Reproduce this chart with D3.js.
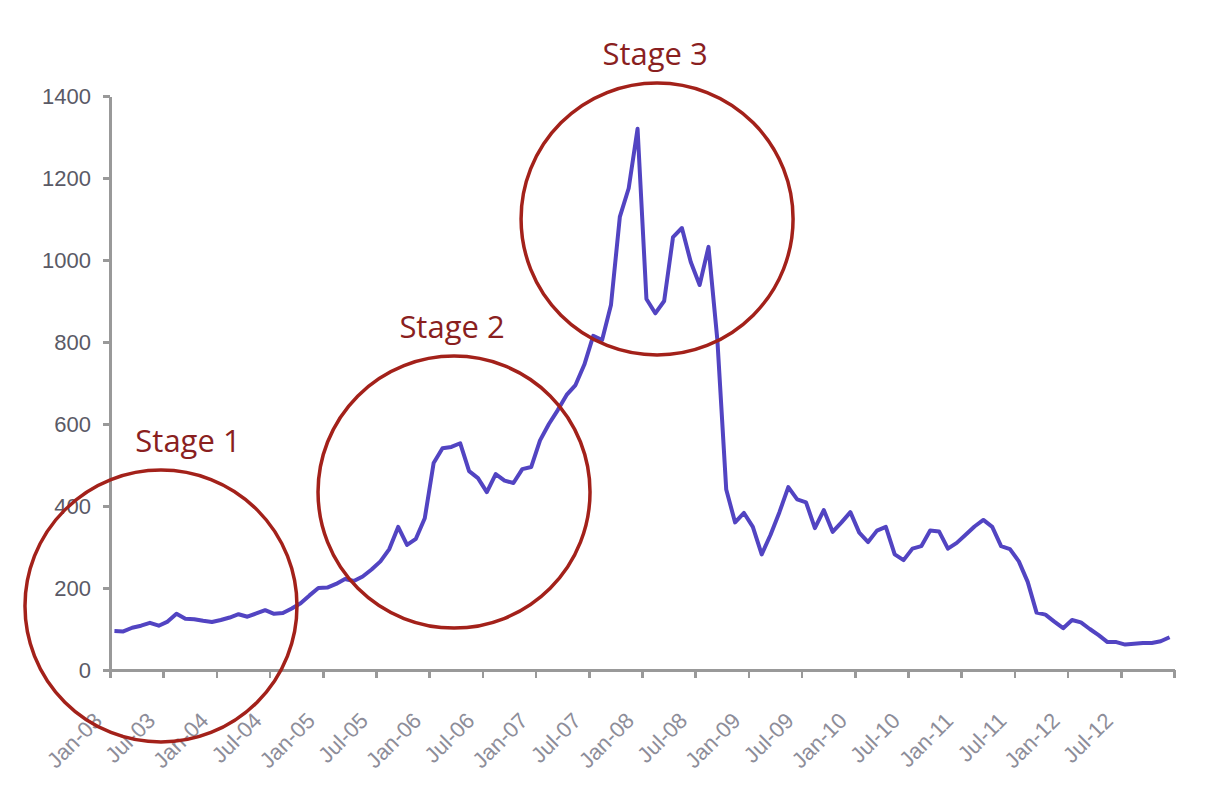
<!DOCTYPE html>
<html lang="en">
<head>
  <meta charset="UTF-8" />
  <title>Stages line chart</title>
  <script src="https://d3js.org/d3.v7.min.js"></script>
  <style>
    html, body {
      margin: 0;
      background: #fff;
    }
    svg { display: block; }
    .axis path, .axis line {
      stroke: #999;
      stroke-width: 2.5;
      shape-rendering: crispEdges;
    }
    .axis text {
      font-family: "Liberation Sans", Arial, sans-serif;
      font-size: 22px;
    }
    .y-axis text { fill: #5a5a66; }
    .x-axis text { fill: #8d8d99; }
    .stage-label {
      font-family: "Open Sans", sans-serif;
      font-size: 31px;
      fill: #8a1f1f;
      text-anchor: middle;
    }
    .stage-circle {
      fill: none;
      stroke: #a3211a;
      stroke-width: 3.5;
    }
  </style>
</head>
<body>
  <svg id="chart" width="1206" height="790"></svg>
  <script>
    // monthly values, Jan-03 .. Dec-12
    const values = [
      95, 94, 103, 108, 115, 108, 118, 137, 125, 124, 120, 117,
      122, 128, 136, 130, 138, 146, 137, 139, 150, 163, 182, 200,
      201, 210, 222, 217, 228, 245, 265, 295, 349, 305, 320, 370,
      505, 541, 544, 553, 485, 468, 434, 478, 462, 456, 490, 495,
      560, 600, 634, 671, 695, 745, 815, 805, 890, 1105, 1175, 1320,
      905, 870, 900, 1056, 1078, 995, 939, 1032, 805, 440, 360, 383,
      349, 282, 330, 385, 446, 416, 409, 346, 390, 337, 360, 385,
      335, 312, 340, 349, 282, 268, 296, 302, 340, 338, 296, 310,
      330, 350, 366, 349, 302, 295, 265, 215, 140, 135, 118, 102,
      122, 116, 100, 85, 68, 68, 62, 64, 66, 66, 70, 80
    ];

    const tickLabels = [
      'Jan-03', 'Jul-03', 'Jan-04', 'Jul-04', 'Jan-05', 'Jul-05', 'Jan-06',
      'Jul-06', 'Jan-07', 'Jul-07', 'Jan-08', 'Jul-08', 'Jan-09', 'Jul-09',
      'Jan-10', 'Jul-10', 'Jan-11', 'Jul-11', 'Jan-12', 'Jul-12'
    ];
    const yTicks = [0, 200, 400, 600, 800, 1000, 1200, 1400];

    // circled stages: centre given as (month position, value)
    const stageNames = ['Stage 1', 'Stage 2', 'Stage 3'];
    const stageMonths = [5.75, 38.8, 61.7];
    const stageValues = [156, 434, 1100];

    const svg = d3.select('#chart');

    const x = d3.scaleLinear().domain([0, values.length]).range([110, 1174]);
    const y = d3.scaleLinear().domain([0, 1400]).range([670, 96]);

    // y axis
    svg.append('g')
      .attr('class', 'axis y-axis')
      .attr('transform', `translate(${x(0)},0)`)
      .call(d3.axisLeft(y)
        .tickValues(yTicks)
        .tickFormat(d3.format('d'))
        .tickSize(7)
        .tickPadding(12)
        .tickSizeOuter(0));

    // x axis: ticks every 6 months, last tick has no label
    const xTickVals = d3.range(0, values.length + 1, 6);
    const xAxis = svg.append('g')
      .attr('class', 'axis x-axis')
      .attr('transform', `translate(0,${y(0)})`)
      .call(d3.axisBottom(x)
        .tickValues(xTickVals)
        .tickSize(8)
        .tickSizeOuter(0)
        .tickFormat((d, i) => tickLabels[i] || ''));

    xAxis.selectAll('text')
      .attr('x', 0)
      .attr('y', 0)
      .attr('dy', 0)
      .attr('text-anchor', 'end')
      .attr('transform', 'translate(-7,52) rotate(-45)');

    // the series
    const line = d3.line()
      .x((d, i) => x(i + 0.5))
      .y(d => y(d));

    svg.append('path')
      .datum(values)
      .attr('d', line)
      .attr('fill', 'none')
      .attr('stroke', '#5244c2')
      .attr('stroke-width', 4)
      .attr('stroke-linejoin', 'round');

    // stage circles and labels
    const stages = stageNames.map((name, i) => ({
      name, month: stageMonths[i], value: stageValues[i]
    }));

    const g = svg.append('g');
    g.selectAll('circle')
      .data(stages)
      .enter().append('circle')
      .attr('class', 'stage-circle')
      .attr('cx', d => x(d.month))
      .attr('cy', d => y(d.value))
      .attr('r', 136);

    g.selectAll('text')
      .data(stages)
      .enter().append('text')
      .attr('class', 'stage-label')
      .attr('x', (d, i) => x(d.month) + (i === 0 ? 27 : -2))
      .attr('y', d => y(d.value) - 154)
      .text(d => d.name);
  </script>
</body>
</html>
